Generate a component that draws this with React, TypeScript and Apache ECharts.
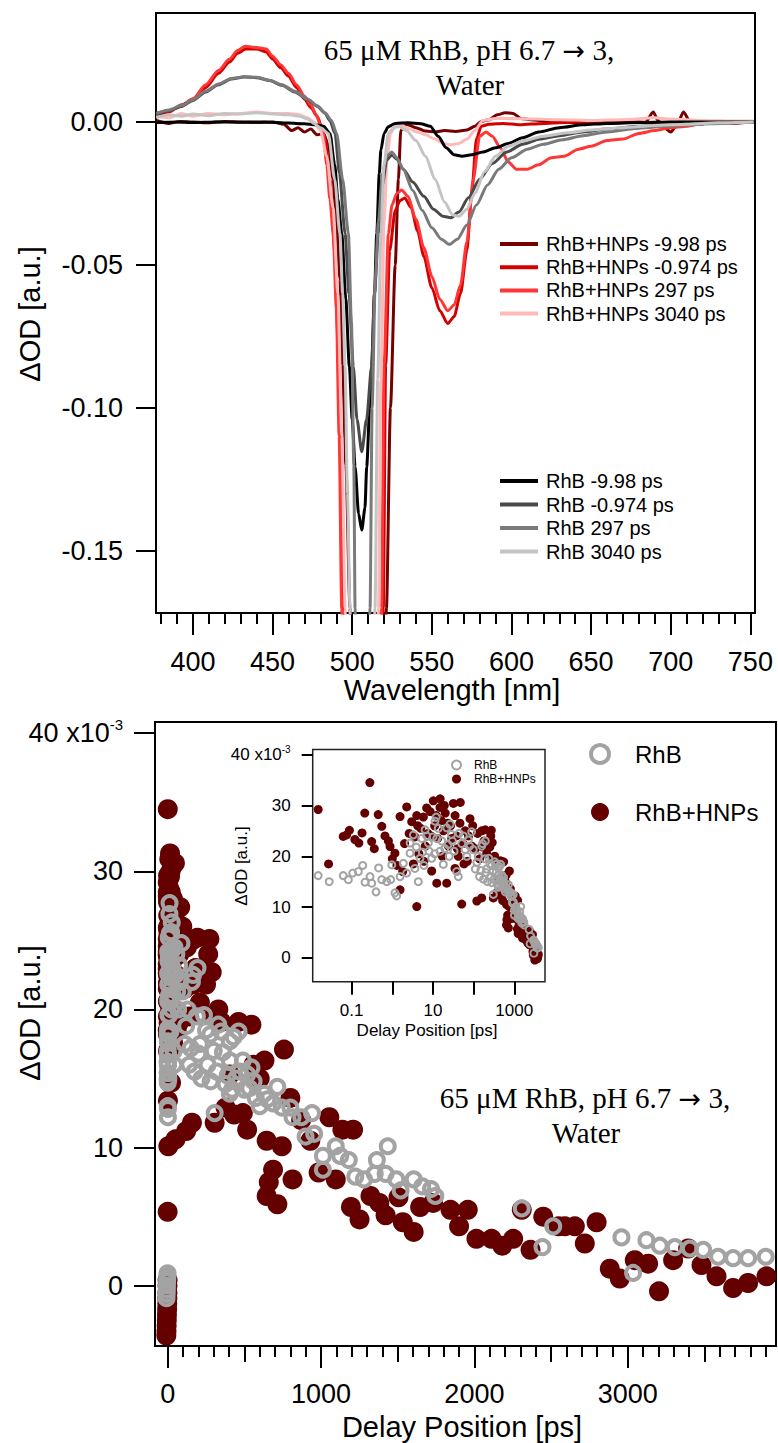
import React, { useEffect, useRef } from "react";
import * as echarts from "echarts";

const SANS = "'Liberation Sans', Arial, sans-serif";
const SERIF = "'Liberation Serif', 'Times New Roman', serif";

// ---------------- top panel: transient spectra ----------------
const wavelengthTicks = [400, 450, 500, 550, 600, 650, 700, 750];
const wavelengthMinorTicks = [380, 390, 400, 410, 420, 430, 440, 450, 460, 470, 480, 490, 500, 510, 520, 530, 540, 550, 560, 570, 580, 590, 600, 610, 620, 630, 640, 650, 660, 670, 680, 690, 700, 710, 720, 730, 740, 750];
const odTicks = [-0.15, -0.1, -0.05, 0];

const hnpsNames = ["RhB+HNPs -9.98 ps", "RhB+HNPs -0.974 ps", "RhB+HNPs 297 ps", "RhB+HNPs 3040 ps"];
const hnpsColors = ["#760000", "#d40000", "#ff3636", "#ffb9b9"];
const rhbNames = ["RhB -9.98 ps", "RhB -0.974 ps", "RhB 297 ps", "RhB 3040 ps"];
const rhbColors = ["#000000", "#4a4a4a", "#7a7a7a", "#c4c4c4"];

const hnpsM998: [number, number][] = [
  [377, 0.0005], [385, -0.0005], [392, 0.0002], [400, 0.0], [410, -0.0003], [420, 0.0002], [430, 0.0], [440, -0.0002], [450, 0.0], [457, -0.0008], [462, -0.003], [466, -0.002], [470, -0.0035], [474, -0.0025], [478, -0.0045], [482, -0.004], [485, -0.008], [488, -0.02], [490, -0.035], [492.3, -0.055], [494, -0.085], [496, -0.12], [498.6, -0.17], [500, -0.25], [519, -0.25], [521.5, -0.17], [524, -0.1], [527, -0.05], [529, -0.02], [530.5, -0.003], [534, -0.0008], [540, -0.002], [546, -0.0032], [552, -0.0035], [558, -0.003], [565, -0.0033], [572, -0.0028], [577, -0.0015], [581, 0.0002], [586, 0.0008], [591, 0.0025], [596, 0.0032], [601, 0.003], [606, 0.0012], [612, 0.0008], [620, 0.0003], [630, 0.0], [645, -0.0003], [660, -0.0002], [675, 0.0], [684, -0.0002], [689, 0.0035], [692, 0.0005], [696, -0.002], [700, -0.0035], [704, -0.001], [708, 0.0035], [712, 0.0002], [718, -0.0008], [728, 0.0], [740, -0.0005], [752, 0.0002],
];
const hnpsM0974: [number, number][] = [
  [377, 0.002], [385, 0.0035], [393, 0.006], [400, 0.008], [408, 0.012], [416, 0.017], [423, 0.021], [428, 0.024], [433, 0.0255], [440, 0.0255], [446, 0.0245], [450, 0.022], [455, 0.019], [460, 0.016], [465, 0.012], [470, 0.008], [474, 0.005], [478, 0.002], [481, -0.002], [483, -0.006], [486, -0.02], [489, -0.045], [491, -0.075], [493, -0.12], [494.5, -0.17], [496, -0.25], [518, -0.25], [519.5, -0.17], [521, -0.085], [523.5, -0.045], [527, -0.031], [530, -0.0275], [533, -0.0266], [537, -0.03], [541, -0.038], [545, -0.047], [550, -0.058], [555, -0.066], [560, -0.0705], [564, -0.068], [568, -0.06], [572, -0.045], [575, -0.025], [578, -0.006], [581, -0.0015], [586, -0.0008], [595, -0.0005], [605, -0.001], [620, -0.0005], [640, 0.0], [660, -0.0005], [680, 0.0], [700, -0.0005], [720, 0.0], [740, 0.0], [752, 0.0],
];
const hnps297: [number, number][] = [
  [377, 0.003], [385, 0.004], [393, 0.0055], [400, 0.008], [408, 0.013], [416, 0.018], [423, 0.022], [428, 0.025], [433, 0.0265], [440, 0.026], [446, 0.0255], [450, 0.023], [455, 0.02], [460, 0.017], [465, 0.013], [470, 0.009], [474, 0.006], [477, 0.003], [480, -0.001], [481.8, -0.004], [484, -0.015], [486, -0.027], [488.1, -0.039], [490, -0.065], [491.8, -0.11], [493.4, -0.17], [495, -0.25], [517, -0.25], [518.5, -0.17], [520, -0.085], [522.7, -0.039], [525, -0.029], [528, -0.025], [531, -0.0238], [535, -0.026], [540, -0.034], [545, -0.044], [550, -0.054], [555, -0.062], [560, -0.066], [564, -0.064], [568, -0.057], [572, -0.042], [576, -0.02], [580, -0.005], [584, -0.0035], [588, -0.005], [593, -0.009], [598, -0.014], [603, -0.0165], [610, -0.0165], [617, -0.015], [625, -0.0125], [633, -0.012], [642, -0.0095], [650, -0.0085], [660, -0.0065], [670, -0.006], [680, -0.004], [690, -0.003], [700, -0.002], [710, -0.0015], [720, -0.0005], [735, 0.0], [752, 0.0],
];
const hnps3040: [number, number][] = [
  [377, 0.002], [385, 0.0015], [393, 0.003], [400, 0.002], [410, 0.003], [420, 0.0025], [430, 0.003], [440, 0.0035], [450, 0.003], [460, 0.003], [467, 0.0025], [472, 0.0015], [476, 0.0], [480, -0.003], [484, -0.012], [488, -0.03], [491, -0.06], [493.5, -0.11], [495.5, -0.17], [497, -0.25], [515, -0.25], [516.5, -0.17], [518, -0.09], [520, -0.035], [522, -0.012], [524, -0.004], [527, -0.0015], [531, -0.0012], [536, -0.0025], [541, -0.0035], [546, -0.0045], [552, -0.006], [557, -0.0075], [562, -0.008], [567, -0.0075], [572, -0.006], [577, -0.003], [582, 0.0005], [590, 0.0012], [600, 0.0012], [615, 0.001], [630, 0.0008], [650, 0.0005], [670, 0.0008], [690, 0.0015], [700, 0.001], [720, 0.0005], [740, 0.0003], [752, 0.0003],
];
const rhbM998: [number, number][] = [
  [377, -0.0002], [390, 0.0], [400, -0.0002], [415, 0.0], [430, -0.0001], [445, 0.0], [460, -0.0004], [470, -0.0006], [477, -0.001], [482, -0.0015], [486, -0.004], [489, -0.015], [491, -0.027], [493.4, -0.039], [496, -0.062], [498.2, -0.0855], [500, -0.104], [501.8, -0.1206], [504, -0.137], [506, -0.1427], [508, -0.135], [509.1, -0.1206], [511, -0.1], [512.2, -0.0855], [514, -0.06], [515.4, -0.039], [517, -0.018], [518, -0.0098], [520, -0.004], [522.7, -0.0017], [527, -0.0005], [535, -0.0003], [543, -0.0006], [549, -0.0015], [554, -0.005], [559, -0.009], [564, -0.0115], [569, -0.012], [575, -0.0115], [582, -0.0105], [590, -0.009], [598, -0.0075], [607, -0.0055], [617, -0.0035], [630, -0.002], [645, -0.001], [660, -0.0005], [680, -0.0002], [700, 0.0], [725, 0.0], [752, 0.0],
];
const rhbM0974: [number, number][] = [
  [377, 0.0025], [385, 0.004], [393, 0.0055], [400, 0.0075], [408, 0.0105], [416, 0.013], [424, 0.015], [432, 0.0157], [440, 0.0155], [448, 0.0145], [456, 0.0128], [464, 0.0105], [472, 0.0078], [478, 0.0055], [483, 0.003], [486, 0.0005], [489.2, -0.004], [492, -0.018], [495.5, -0.039], [498, -0.06], [500.7, -0.0855], [503, -0.104], [506, -0.1153], [509, -0.104], [512.2, -0.0855], [514, -0.06], [516.4, -0.039], [519, -0.022], [521.7, -0.0133], [524.8, -0.0115], [528, -0.013], [532, -0.0165], [538, -0.021], [545, -0.026], [551, -0.0305], [557, -0.033], [562, -0.0335], [567, -0.0315], [573, -0.0265], [580, -0.02], [588, -0.0145], [597, -0.0105], [607, -0.0078], [618, -0.006], [630, -0.0048], [645, -0.0035], [660, -0.0025], [680, -0.0015], [700, -0.001], [725, -0.0004], [752, 0.0],
];
const rhb297: [number, number][] = [
  [377, 0.003], [385, 0.0042], [393, 0.0058], [400, 0.0078], [408, 0.0108], [416, 0.0133], [424, 0.0152], [432, 0.0158], [440, 0.0156], [448, 0.0146], [456, 0.013], [464, 0.0107], [472, 0.008], [478, 0.0057], [483, 0.0032], [487, 0.0005], [490.2, -0.004], [494, -0.02], [497.6, -0.039], [499.5, -0.07], [501, -0.12], [501.8, -0.17], [503, -0.25], [509, -0.25], [511.2, -0.17], [512.5, -0.1], [514.5, -0.055], [516.4, -0.035], [519, -0.018], [521.7, -0.012], [524.8, -0.0105], [528, -0.0125], [532, -0.0165], [538, -0.024], [544, -0.031], [550, -0.037], [556, -0.041], [561, -0.0428], [566, -0.041], [572, -0.036], [578, -0.029], [585, -0.022], [592, -0.0165], [600, -0.0125], [610, -0.0095], [620, -0.0078], [632, -0.0062], [645, -0.0048], [660, -0.0035], [680, -0.0022], [700, -0.0014], [725, -0.0006], [752, 0.0],
];
const rhb3040: [number, number][] = [
  [377, 0.0015], [385, 0.0025], [393, 0.002], [400, 0.0028], [410, 0.0022], [420, 0.003], [430, 0.0028], [440, 0.0032], [450, 0.0028], [460, 0.0025], [467, 0.002], [472, 0.001], [476, -0.0005], [480, -0.002], [485, -0.004], [489, -0.02], [492.3, -0.039], [494, -0.06], [495.5, -0.0855], [497, -0.13], [498.6, -0.17], [500, -0.25], [512, -0.25], [514.3, -0.17], [516, -0.09], [518, -0.04], [520, -0.015], [522.6, -0.004], [526, -0.002], [529.5, -0.0016], [534, -0.003], [540, -0.0065], [546, -0.012], [552, -0.02], [558, -0.028], [563, -0.0325], [567, -0.033], [572, -0.0305], [577, -0.025], [583, -0.0175], [590, -0.012], [598, -0.0085], [608, -0.0065], [620, -0.005], [635, -0.0038], [650, -0.0028], [670, -0.002], [690, -0.0012], [710, -0.0008], [730, -0.0003], [752, 0.0],
];
const hnpsSpectra = [hnpsM998, hnpsM0974, hnps297, hnps3040];
const rhbSpectra = [rhbM998, rhbM0974, rhb297, rhb3040];

// ---------------- bottom panel: kinetics (signal in 10^-3) ----------------
const delayTicks = [0, 1000, 2000, 3000];
const delayMidTicks = [500, 1500, 2500, 3500];
const delayMinorTicks = [0, 100, 200, 300, 400, 500, 600, 700, 800, 900, 1000, 1100, 1200, 1300, 1400, 1500, 1600, 1700, 1800, 1900, 2000, 2100, 2200, 2300, 2400, 2500, 2600, 2700, 2800, 2900, 3000, 3100, 3200, 3300, 3400, 3500, 3600, 3700, 3800, 3900];
const signalTicks = [0, 10, 20, 30, 40];
const insetDelayTicks = [0.1, 1, 10, 100, 1000];
const insetDelayLabels = ["0.1", "", "10", "", "1000"];
const kineticsNames = ["RhB", "RhB+HNPs"];

const hnpsKinetics: [number, number][] = [
  [-9, -3.6], [-8, -3.3], [-7, -2.9], [-6, -2.5], [-5, -2.1], [-4, -1.7], [-3, -1.3], [-2.5, -0.9], [-2, -0.5], [-1.5, 0.0], [-1, 0.4], [-0.5, 5.35],
  [0.015, 29.2], [0.027, 18.5], [0.062, 23.9], [0.075, 24.2], [0.088, 25.1], [0.12, 23.3], [0.15, 22.6], [0.18, 24.6], [0.21, 28.5], [0.28, 34.5], [0.31, 22.9], [0.36, 21.5], [0.45, 28.2], [0.55, 25.9], [0.66, 24.0], [0.8, 23.0], [0.88, 21.9], [1.0, 19.5], [1.16, 20.6], [1.3, 18.2], [1.55, 13.4], [1.55, 27.8], [1.8, 17.0], [2.0, 22.5], [2.26, 29.7], [2.6, 24.5], [3.0, 26.8], [3.3, 18.5], [3.6, 23.8], [4.0, 10.1], [4.0, 28.0], [4.2, 26.0], [4.5, 20.5], [5.0, 25.5], [5.8, 27.7], [6.0, 19.0], [6.5, 22.0], [7.0, 29.5], [7.5, 24.5], [8.5, 28.8], [9.0, 24.0], [9.3, 17.1], [10.2, 30.9], [11, 26.0], [12, 28.0], [12.4, 14.7], [13, 23.5], [14.9, 29.6], [15, 31.3], [16, 27.0], [17, 20.0], [18, 25.0], [19, 30.0], [20, 28.5], [21.8, 14.7], [23, 26.5], [24, 22.0], [27, 26.0], [29, 23.5], [31.8, 30.4], [34.9, 17.6], [35, 28.0], [38, 24.0], [40, 21.5], [42, 20.0], [46, 26.5], [47, 30.6], [50.9, 10.6], [55, 22.5], [58, 18.5], [62, 25.0], [70, 19.0], [75, 24.0], [81.5, 27.4], [90, 22.0], [95, 26.0],
  [110, 21.5], [120, 11.2], [125, 24.5], [140, 19.5], [158, 25.0], [158, 11.8], [165, 21.8], [180, 23.0], [194, 25.2], [210, 20.5], [250, 21.8], [264, 24.0], [272, 25.1], [287, 22.7], [300, 19.5], [306, 11.8], [330, 20.0], [349, 19.1], [377, 12.9], [405, 15.3], [433, 12.4], [462, 19.1], [490, 12.5], [518, 11.3], [546, 18.9], [560, 16.0], [600, 15.0], [631, 16.3], [645, 10.5], [645, 6.5], [659, 7.5], [687, 8.4], [715, 5.9], [744, 10.1], [758, 17.1], [800, 13.6], [814, 7.7], [870, 12.0], [930, 10.5], [984, 8.2], [1054, 12.2], [1096, 7.7], [1139, 11.3], [1195, 5.7], [1209, 11.3], [1251, 4.8], [1322, 6.5], [1380, 6.0], [1421, 5.1], [1505, 6.4], [1533, 4.6], [1604, 3.9], [1646, 5.7], [1731, 6.0], [1844, 5.5], [1900, 4.3], [1957, 5.5], [2013, 3.4], [2112, 3.4], [2182, 2.9], [2253, 3.4], [2309, 5.5], [2366, 2.6], [2449, 5.0], [2549, 4.3], [2590, 4.3], [2655, 4.3], [2720, 3.06], [2797, 4.6], [2883, 1.24], [2948, 0.52], [3046, 1.85], [3133, 1.6], [3204, -0.4], [3296, 1.85], [3394, 2.7], [3481, 1.5], [3579, 0.68], [3687, -0.16], [3785, 0.2], [3905, 0.68],
];
const rhbKinetics: [number, number][] = [
  [-8, -0.9], [-7, -0.6], [-6, -0.3], [-5, 0.0], [-4, 0.3], [-3, 0.5], [-2, 0.7], [-1, 0.9],
  [0.015, 16.2], [0.028, 15.0], [0.062, 16.2], [0.083, 15.4], [0.106, 16.7], [0.146, 17.0], [0.187, 18.2], [0.213, 14.9], [0.283, 16.0], [0.311, 14.7], [0.397, 13.0], [0.46, 17.7], [0.55, 15.4], [0.73, 15.0], [0.91, 15.4], [0.97, 18.3], [1.16, 12.8], [1.28, 12.2], [1.55, 16.0], [1.87, 18.6], [2.26, 16.7], [2.73, 20.6], [2.73, 22.6], [3.3, 24.2], [3.6, 17.6], [3.9, 21.8], [4.36, 15.0], [4.8, 19.6], [5.3, 23.5], [5.5, 20.8], [6.0, 18.2], [6.4, 25.2], [7.0, 24.0], [7.7, 22.6], [8.0, 21.0], [9.3, 19.6], [10, 23.8], [11, 20.5], [11.2, 26.9], [12, 27.7], [12.4, 23.5], [13.5, 25.5], [14.9, 21.0], [16.5, 23.0], [18.0, 18.4], [19.5, 21.5], [21.8, 25.6], [23.5, 22.3], [25, 20.0], [26.3, 26.3], [28.4, 24.3], [30, 23.0], [33, 21.0], [38.4, 17.0], [42, 16.0], [44, 24.5], [51, 22.5], [56, 24.0], [61.6, 21.3], [68, 20.0], [74, 23.2], [80, 22.0], [89.5, 24.8], [98, 21.3],
  [110, 17.5], [120, 18.8], [130, 20.0], [140, 16.0], [150, 17.2], [158, 22.0], [165, 22.5], [175, 15.5], [190, 19.5], [194, 23.0], [200, 16.8], [210, 17.5], [220, 15.0], [236, 19.6], [250, 18.5], [260, 16.0], [278, 18.2], [280, 14.8], [300, 17.0], [306, 12.5], [320, 15.5], [330, 18.9], [349, 18.4], [360, 16.9], [377, 14.6], [390, 15.2], [405, 17.7], [405, 16.3], [405, 13.9], [420, 14.2], [430, 18.0], [446, 15.0], [462, 18.4], [470, 15.5], [490, 16.3], [500, 14.2], [518, 15.3], [532, 14.3], [546, 15.8], [560, 14.8], [574, 13.6], [600, 13.0], [631, 13.9], [650, 13.5], [687, 13.2], [715, 14.4], [744, 12.9], [800, 12.9], [814, 12.2], [871, 12.2], [899, 10.8], [941, 12.5], [955, 11.0], [1012, 9.4], [1012, 8.4], [1096, 10.1], [1125, 9.4], [1181, 9.1], [1223, 7.9], [1280, 7.7], [1350, 8.1], [1364, 9.1], [1421, 8.1], [1435, 10.1], [1491, 7.7], [1519, 6.9], [1604, 7.7], [1660, 7.2], [1717, 7.0], [1745, 6.5], [2309, 5.6], [2444, 2.8], [2514, 4.3], [2959, 3.5], [3035, 0.93], [3122, 3.3], [3209, 2.9], [3307, 2.8], [3405, 2.7], [3492, 2.6], [3589, 2.1], [3687, 2.0], [3785, 2.0], [3900, 2.1],
];

const HNP_FILL = "#640000";
const RHB_RING = "#a3a3a3";

export default function App() {
  const ref = useRef<HTMLDivElement>(null);

  useEffect(() => {
    if (!ref.current) return;
    const chart = echarts.init(ref.current, undefined, { renderer: "svg" });
    const black = "#000";
    const tickStyle = { color: black, width: 2 };
    const noLine = { show: false, onZero: false };
    const noSplit = { show: false };

    const topMin = 376.8, topMax = 752.9;
    const mainMin = -83, mainMax = 3967;
    const insetMin = 0.011, insetMax = 5700;

    const supRich = (big: number, small: number, lift: number) => ({
      a: { fontSize: big, fontFamily: SANS, color: black },
      b: { fontSize: small, fontFamily: SANS, color: black, verticalAlign: "bottom", padding: [0, 0, lift, 0] },
    });

    const titleRich = (x: number, y: number, cx: number) => [
      { type: "text", x, y, style: {
        text: "{t|65 μM RhB, pH 6.7 }{r|→}{t| 3,}", align: "center", verticalAlign: "middle",
        rich: { t: { fontFamily: SERIF, fontSize: 29, fill: black, color: black }, r: { fontFamily: "'DejaVu Sans'", fontSize: 27, fill: black, color: black } },
      } },
      { type: "text", x: cx, y: y + 35, style: { text: "Water", font: `29px ${SERIF}`, fill: black, align: "center", verticalAlign: "middle" } },
    ];

    const insetLabel = (v: number) => {
      const i = insetDelayTicks.findIndex((d) => Math.abs(Math.log10(d) - Math.log10(v)) < 1e-6);
      return i >= 0 ? insetDelayLabels[i] : "";
    };

    const spectraSeries: any[] = [];
    hnpsSpectra.forEach((d, i) =>
      spectraSeries.push({
        type: "line", name: hnpsNames[i], xAxisIndex: 0, yAxisIndex: 0, data: d,
        showSymbol: false, symbol: "none", color: hnpsColors[i], smooth: 0.25, smoothMonotone: "x",
        lineStyle: { color: hnpsColors[i], width: 3 }, clip: true, z: 2,
      })
    );
    rhbSpectra.forEach((d, i) =>
      spectraSeries.push({
        type: "line", name: rhbNames[i], xAxisIndex: 0, yAxisIndex: 0, data: d,
        showSymbol: false, symbol: "none", color: rhbColors[i], smooth: 0.25, smoothMonotone: "x",
        lineStyle: { color: rhbColors[i], width: 3 }, clip: true, z: 3,
      })
    );

    const xBase = (grid: number, min: number, max: number) => ({
      gridIndex: grid, type: "value", position: "bottom", min, max, axisLine: noLine, splitLine: noSplit,
    });

    const option: any = {
      animation: false,
      grid: [
        { left: 156, top: 13, width: 599, height: 600, show: true, borderColor: black, borderWidth: 2, backgroundColor: "transparent" },
        { left: 155, top: 722, width: 621, height: 624, show: true, borderColor: black, borderWidth: 2, backgroundColor: "transparent" },
        { left: 312.7, top: 749.5, width: 232.3, height: 232.2, show: true, borderColor: "#222", borderWidth: 1.5, backgroundColor: "transparent" },
      ],
      xAxis: [
        {
          ...xBase(0, topMin, topMax),
          axisTick: { show: true, customValues: wavelengthTicks, length: 22, lineStyle: tickStyle },
          axisLabel: { customValues: wavelengthTicks, formatter: (v: number) => String(v), fontSize: 27, fontFamily: SANS, color: black, margin: 35 },
        },
        {
          ...xBase(0, topMin, topMax),
          axisTick: { show: true, customValues: wavelengthMinorTicks, length: 11, lineStyle: tickStyle },
          axisLabel: { show: false },
        },
        {
          ...xBase(1, mainMin, mainMax),
          axisTick: { show: true, customValues: delayTicks, length: 22, lineStyle: tickStyle },
          axisLabel: { customValues: delayTicks, formatter: (v: number) => String(v), fontSize: 27, fontFamily: SANS, color: black, margin: 34 },
        },
        {
          ...xBase(1, mainMin, mainMax),
          axisTick: { show: true, customValues: delayMidTicks, length: 16, lineStyle: tickStyle },
          axisLabel: { show: false },
        },
        {
          ...xBase(1, mainMin, mainMax),
          axisTick: { show: true, customValues: delayMinorTicks, length: 11, lineStyle: tickStyle },
          axisLabel: { show: false },
        },
        {
          gridIndex: 2, type: "log", logBase: 10, position: "bottom", min: insetMin, max: insetMax,
          axisLine: noLine, splitLine: noSplit,
          axisTick: { show: true, customValues: insetDelayTicks, length: 13, lineStyle: tickStyle },
          axisLabel: {
            customValues: [insetMin, ...insetDelayTicks], formatter: insetLabel,
            fontSize: 17, fontFamily: SANS, color: black, margin: 20,
          },
        },
      ],
      yAxis: [
        {
          gridIndex: 0, type: "value", position: "left", min: -0.1717, max: 0.0381, axisLine: noLine, splitLine: noSplit,
          axisTick: { show: true, customValues: odTicks, length: 20, lineStyle: tickStyle },
          axisLabel: { customValues: odTicks, formatter: (v: number) => v.toFixed(2), fontSize: 27, fontFamily: SANS, color: black, margin: 33 },
        },
        {
          gridIndex: 1, type: "value", position: "left", min: -4.36, max: 40.81, axisLine: noLine, splitLine: noSplit,
          axisTick: { show: true, customValues: signalTicks, length: 21, lineStyle: tickStyle },
          axisLabel: {
            customValues: signalTicks, margin: 32,
            formatter: (v: number) => (v === 40 ? "{a|40 x10}{b|-3}" : "{a|" + v + "}"),
            rich: supRich(27, 15, 18),
          },
        },
        {
          gridIndex: 2, type: "value", position: "left", min: -4.67, max: 41, axisLine: noLine, splitLine: noSplit,
          axisTick: { show: true, customValues: signalTicks, length: 11, lineStyle: tickStyle },
          axisLabel: {
            customValues: signalTicks, margin: 22,
            formatter: (v: number) => (v === 40 ? "{a|40 x10}{b|-3}" : "{a|" + v + "}"),
            rich: supRich(17, 10, 11),
          },
        },
      ],
      legend: [
        {
          data: hnpsNames, left: 500, top: 234, padding: 0, orient: "vertical", icon: "rect", itemWidth: 38, itemHeight: 4, itemGap: 3.2,
          selectedMode: false, textStyle: { fontSize: 20, fontFamily: SANS, color: black, lineHeight: 20, padding: [0, 0, 0, 3] },
        },
        {
          data: rhbNames, left: 500, top: 471, padding: 0, orient: "vertical", icon: "rect", itemWidth: 38, itemHeight: 4, itemGap: 3.5,
          selectedMode: false, textStyle: { fontSize: 20, fontFamily: SANS, color: black, lineHeight: 20, padding: [0, 0, 0, 3] },
        },
        {
          data: [
            { name: kineticsNames[0], icon: "circle", itemStyle: { color: "rgba(255,255,255,0)", borderColor: RHB_RING, borderWidth: 4, opacity: 1 } },
            { name: kineticsNames[1], icon: "circle", itemStyle: { color: HNP_FILL, borderWidth: 0, opacity: 1 } },
          ],
          left: 589, top: 742, padding: 0, orient: "vertical", itemWidth: 18, itemHeight: 18, itemGap: 34, selectedMode: false,
          textStyle: { fontSize: 24, fontFamily: SANS, color: black, lineHeight: 24, padding: [0, 0, 0, 21] },
        },
        {
          data: [
            { name: kineticsNames[0], icon: "circle", itemStyle: { color: "rgba(255,255,255,0)", borderColor: RHB_RING, borderWidth: 2, opacity: 1 } },
            { name: kineticsNames[1], icon: "circle", itemStyle: { color: HNP_FILL, borderWidth: 0, opacity: 1 } },
          ],
          left: 451, top: 759, padding: 0, orient: "vertical", itemWidth: 9, itemHeight: 9, itemGap: 2, selectedMode: false,
          textStyle: { fontSize: 12, fontFamily: SANS, color: black, lineHeight: 12, padding: [0, 0, 0, 8] },
        },
      ],
      graphic: [
        ...titleRich(469, 50, 470),
        { type: "text", x: 30, y: 314, rotation: Math.PI / 2, style: { text: "ΔOD [a.u.]", font: `29px ${SANS}`, fill: black, align: "center", verticalAlign: "middle" } },
        { type: "text", x: 452, y: 690, style: { text: "Wavelength [nm]", font: `29px ${SANS}`, fill: black, align: "center", verticalAlign: "middle" } },
        { type: "text", x: 30, y: 1013, rotation: Math.PI / 2, style: { text: "ΔOD [a.u.]", font: `29px ${SANS}`, fill: black, align: "center", verticalAlign: "middle" } },
        { type: "text", x: 462, y: 1427, style: { text: "Delay Position [ps]", font: `29px ${SANS}`, fill: black, align: "center", verticalAlign: "middle" } },
        { type: "text", x: 241, y: 866, rotation: Math.PI / 2, style: { text: "ΔOD [a.u.]", font: `17px ${SANS}`, fill: black, align: "center", verticalAlign: "middle" } },
        { type: "text", x: 427, y: 1030, style: { text: "Delay Position [ps]", font: `17px ${SANS}`, fill: black, align: "center", verticalAlign: "middle" } },
        ...titleRich(585, 1098, 586),
      ],
      series: [
        ...spectraSeries,
        {
          type: "scatter", name: kineticsNames[1], xAxisIndex: 2, yAxisIndex: 1, data: hnpsKinetics,
          symbol: "circle", symbolSize: 20, itemStyle: { color: HNP_FILL, opacity: 1 }, z: 2,
        },
        {
          type: "scatter", name: kineticsNames[0], xAxisIndex: 2, yAxisIndex: 1, data: rhbKinetics,
          symbol: "circle", symbolSize: 14, itemStyle: { color: "rgba(255,255,255,0)", borderColor: RHB_RING, borderWidth: 4, opacity: 1 }, z: 3,
        },
        {
          type: "scatter", name: kineticsNames[1], xAxisIndex: 5, yAxisIndex: 2, data: hnpsKinetics.filter((p) => p[0] > 0),
          symbol: "circle", symbolSize: 9, itemStyle: { color: HNP_FILL, opacity: 1 }, z: 2,
        },
        {
          type: "scatter", name: kineticsNames[0], xAxisIndex: 5, yAxisIndex: 2, data: rhbKinetics.filter((p) => p[0] > 0),
          symbol: "circle", symbolSize: 7, itemStyle: { color: "rgba(255,255,255,0)", borderColor: RHB_RING, borderWidth: 2, opacity: 1 }, z: 3,
        },
      ],
    };

    chart.setOption(option);
    return () => chart.dispose();
  }, []);

  return (
    <div
      ref={ref}
      style={{ position: "absolute", left: 0, top: 0, width: 778, height: 1443, background: "#fff" }}
    />
  );
}
